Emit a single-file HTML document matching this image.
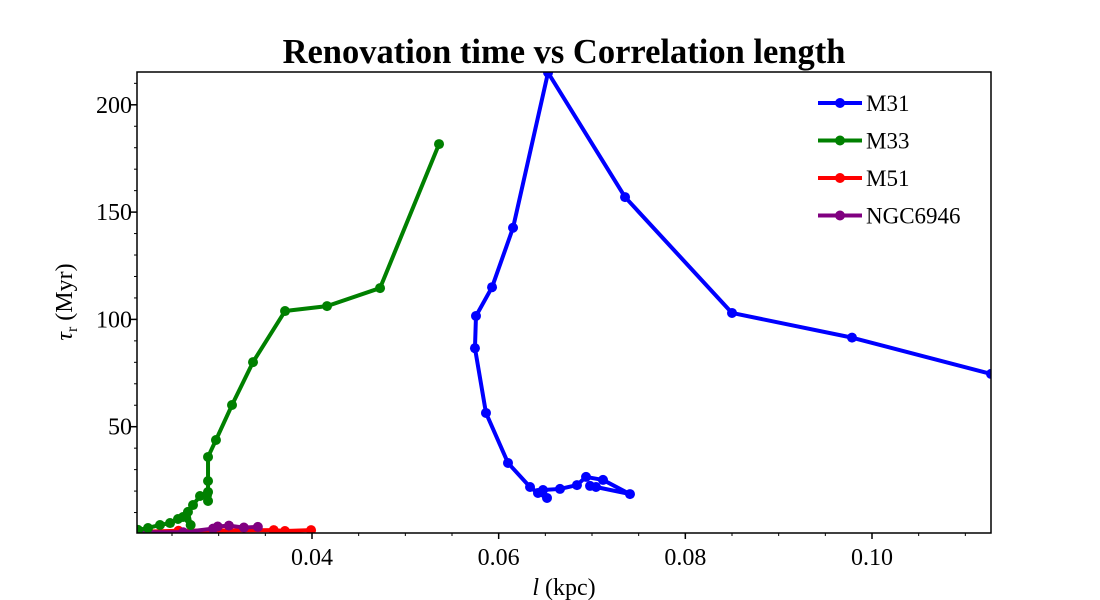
<!DOCTYPE html>
<html><head><meta charset="utf-8"><style>
body{margin:0;background:#fff}
svg{display:block;font-family:"Liberation Serif",serif}
</style></head><body>
<svg id="c" width="1100" height="600">
<defs><clipPath id="clip"><rect x="137" y="72" width="854" height="461"/></clipPath></defs>
<text x="564" y="63" text-anchor="middle" font-size="34.5" font-weight="bold">Renovation time vs Correlation length</text>
<g id="plot" clip-path="url(#clip)"></g>
<g id="axes"></g>
<text transform="translate(72,302) rotate(-90)" text-anchor="middle" font-size="24"><tspan font-style="italic">τ</tspan><tspan font-size="16" dy="5">r</tspan><tspan dy="-5"> (Myr)</tspan></text>
<text x="564" y="595" text-anchor="middle" font-size="24"><tspan font-style="italic">l</tspan> (kpc)</text>
<g id="legend"></g>
</svg>
<script>
const seriesNames=["M31","M33","M51","NGC6946"];
const seriesColors=["#0000ff","#008000","#ff0000","#800080"];
const m31X=[0.1250,0.11275,0.09786,0.0850,0.07354,0.06529,0.06154,0.05929,0.05757,0.05746,0.05864,0.0610,0.06336,0.06421,0.06518,0.06475,0.06657,0.06839,0.06936,0.07118,0.07407,0.07043,0.06979];
const m31Y=[61,74.6,91.5,103,157,215,142.7,115.0,101.6,86.6,56.4,33.1,21.9,19.1,16.8,20.5,21.0,22.8,26.6,25.2,18.6,21.9,22.4];
const m33X=[0.02136,0.02243,0.02371,0.02479,0.02564,0.02618,0.0270,0.02671,0.02725,0.0280,0.02875,0.02886,0.02886,0.02886,0.02886,0.02971,0.03143,0.03368,0.03711,0.04161,0.04729,0.05361];
const m33Y=[1.9,2.8,4.2,5.1,7.0,7.9,4.2,10.3,13.5,17.7,18.2,15.4,19.6,24.7,35.9,43.8,60.1,80.1,103.9,106.2,114.6,181.7];
const m51X=[0.0213,0.0257,0.0359,0.0371,0.0399];
const m51Y=[1.0,1.5,1.8,1.4,1.8];
const ngcX=[0.0214,0.0262,0.0294,0.0299,0.0311,0.0327,0.0342];
const ngcY=[0.8,0.8,2.5,3.5,3.9,3.0,3.3];
const xTicks=[0.04,0.06,0.08,0.10];
const xTickLabels=["0.04","0.06","0.08","0.10"];
const yTicks=[50,100,150,200];
const yTickLabels=["50","100","150","200"];
const X0=0.02125,X1=0.11275,Y0=0,Y1=215;
const L=137,R=991,T=72,B=533;
const sx=v=>L+(v-X0)/(X1-X0)*(R-L);
const sy=v=>534-(v-Y0)*2.146;
const NS="http://www.w3.org/2000/svg";
function mk(t,a,p){const e=document.createElementNS(NS,t);for(const k in a)e.setAttribute(k,a[k]);p.appendChild(e);return e;}
const plot=document.getElementById('plot'),axes=document.getElementById('axes'),leg=document.getElementById('legend');
const all=[[m31X,m31Y],[m33X,m33Y],[m51X,m51Y],[ngcX,ngcY]];
[2,3,1,0].forEach(s=>{
 const xs=all[s][0],ys=all[s][1],c=seriesColors[s];
 const g=mk('g',{},plot);
 
 
 const pl=mk('polyline',{points:xs.map((x,i)=>sx(x)+','+sy(ys[i])).join(' '),fill:'none',stroke:c,'stroke-width':4,'stroke-linejoin':'round'},g);
 
 
 xs.forEach((x,i)=>{const p=mk('circle',{cx:sx(x),cy:sy(ys[i]),r:5,fill:c},g);
  
  });
});
const fr=mk('rect',{x:L,y:T,width:R-L,height:B-T,fill:'none',stroke:'#000','stroke-width':1.5},axes);


for(let v=0.025;v<X1;v+=0.005){const x=sx(v);if(x<L||x>R)continue;mk('line',{x1:x,x2:x,y1:B,y2:B+3,stroke:'#000','stroke-width':1},axes);}
xTicks.forEach((v,i)=>{const x=sx(v);mk('line',{x1:x,x2:x,y1:B,y2:B+6,stroke:'#000','stroke-width':1.5},axes);
 const t=mk('text',{x:x,y:B+32,'text-anchor':'middle','font-size':24},axes);t.textContent=xTickLabels[i];
 
 });
for(let v=10;v<Y1;v+=10){const y=sy(v);mk('line',{x1:L-3,x2:L,y1:y,y2:y,stroke:'#000','stroke-width':1},axes);}
yTicks.forEach((v,i)=>{const y=sy(v);mk('line',{x1:L-6,x2:L,y1:y,y2:y,stroke:'#000','stroke-width':1.5},axes);
 const t=mk('text',{x:L-5,y:y+8,'text-anchor':'end','font-size':24},axes);t.textContent=yTickLabels[i];
 
 });
seriesNames.forEach((n,i)=>{const y=103+i*37.5;const g=mk('g',{},leg);
 
 
 mk('line',{x1:818,x2:862,y1:y,y2:y,stroke:seriesColors[i],'stroke-width':4},g);
 mk('circle',{cx:840,cy:y,r:5,fill:seriesColors[i]},g);
 const t=mk('text',{x:866,y:y+8,'font-size':23},g);t.textContent=n;});
</script>
</body></html>
